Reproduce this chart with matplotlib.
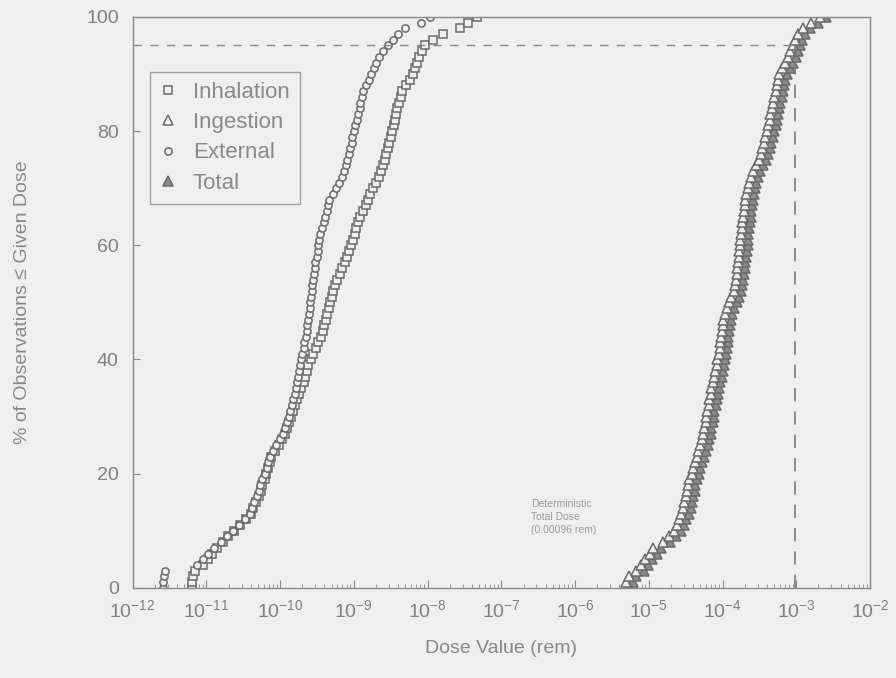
import numpy as np
import matplotlib
matplotlib.use("Agg")
import matplotlib.pyplot as plt
from matplotlib.ticker import LogLocator, NullFormatter

plt.rcParams["font.family"] = ["Liberation Sans", "DejaVu Sans"]
plt.rcParams["mathtext.fontset"] = "custom"
plt.rcParams["mathtext.rm"] = "Liberation Sans"
plt.rcParams["mathtext.it"] = "Liberation Sans"

# log10 of dose (rem), sorted, one value per observation
external_log = [
    -11.59, -11.59, -11.58, -11.56, -11.12, -11.05, -10.98, -10.90, -10.80, -10.72,
    -10.64, -10.56, -10.47, -10.41, -10.38, -10.35, -10.31, -10.29, -10.27, -10.24,
    -10.21, -10.18, -10.16, -10.14, -10.10, -10.05, -10.00, -9.96, -9.93, -9.90,
    -9.88, -9.86, -9.84, -9.82, -9.80, -9.79, -9.77, -9.76, -9.74, -9.73,
    -9.71, -9.70, -9.68, -9.67, -9.65, -9.64, -9.63, -9.62, -9.61, -9.60,
    -9.59, -9.58, -9.57, -9.57, -9.56, -9.54, -9.53, -9.52, -9.50, -9.49,
    -9.48, -9.47, -9.46, -9.43, -9.41, -9.39, -9.37, -9.35, -9.33, -9.28,
    -9.24, -9.20, -9.16, -9.14, -9.11, -9.09, -9.07, -9.05, -9.03, -9.02,
    -9.00, -8.98, -8.96, -8.94, -8.92, -8.91, -8.89, -8.87, -8.84, -8.80,
    -8.77, -8.73, -8.70, -8.66, -8.60, -8.53, -8.47, -8.40, -8.30, -8.09,
    -7.97]

inhalation_log = [
    -11.19, -11.19, -11.18, -11.16, -11.05, -10.98, -10.92, -10.85, -10.78, -10.70,
    -10.62, -10.54, -10.46, -10.40, -10.37, -10.33, -10.29, -10.26, -10.24, -10.21,
    -10.19, -10.16, -10.14, -10.12, -10.07, -10.02, -9.97, -9.93, -9.91, -9.88,
    -9.85, -9.82, -9.80, -9.77, -9.74, -9.71, -9.68, -9.66, -9.64, -9.62,
    -9.58, -9.55, -9.51, -9.48, -9.45, -9.42, -9.40, -9.38, -9.36, -9.34,
    -9.32, -9.30, -9.28, -9.25, -9.23, -9.19, -9.16, -9.12, -9.09, -9.06,
    -9.04, -9.01, -8.99, -8.97, -8.95, -8.91, -8.88, -8.84, -8.81, -8.78,
    -8.74, -8.70, -8.66, -8.63, -8.60, -8.58, -8.56, -8.54, -8.52, -8.50,
    -8.48, -8.46, -8.44, -8.43, -8.41, -8.39, -8.36, -8.34, -8.29, -8.24,
    -8.20, -8.17, -8.14, -8.11, -8.08, -8.04, -7.92, -7.79, -7.56, -7.45,
    -7.33]

ingestion_log = [
    -5.34, -5.31, -5.27, -5.17, -5.11, -5.05, -4.99, -4.94, -4.81, -4.73,
    -4.66, -4.62, -4.59, -4.56, -4.53, -4.52, -4.50, -4.48, -4.47, -4.45,
    -4.42, -4.40, -4.38, -4.35, -4.33, -4.30, -4.28, -4.26, -4.25, -4.23,
    -4.22, -4.21, -4.19, -4.18, -4.16, -4.15, -4.13, -4.11, -4.10, -4.08,
    -4.07, -4.05, -4.04, -4.03, -4.02, -4.01, -4.00, -3.99, -3.97, -3.94,
    -3.91, -3.88, -3.85, -3.83, -3.82, -3.81, -3.80, -3.79, -3.78, -3.77,
    -3.76, -3.76, -3.75, -3.74, -3.73, -3.72, -3.71, -3.70, -3.69, -3.68,
    -3.66, -3.64, -3.62, -3.59, -3.55, -3.51, -3.48, -3.46, -3.44, -3.42,
    -3.40, -3.38, -3.36, -3.35, -3.33, -3.32, -3.30, -3.28, -3.26, -3.25,
    -3.23, -3.19, -3.15, -3.11, -3.08, -3.05, -3.02, -2.98, -2.91, -2.80,
    -2.68]

total_log = [
    -5.26, -5.21, -5.17, -5.07, -5.01, -4.95, -4.89, -4.84, -4.71, -4.63,
    -4.56, -4.52, -4.49, -4.46, -4.43, -4.42, -4.40, -4.38, -4.37, -4.35,
    -4.32, -4.30, -4.28, -4.25, -4.23, -4.20, -4.18, -4.16, -4.15, -4.13,
    -4.12, -4.11, -4.09, -4.08, -4.06, -4.05, -4.03, -4.01, -4.00, -3.98,
    -3.97, -3.95, -3.94, -3.93, -3.92, -3.91, -3.90, -3.89, -3.87, -3.84,
    -3.81, -3.78, -3.75, -3.73, -3.72, -3.71, -3.70, -3.69, -3.68, -3.67,
    -3.66, -3.66, -3.65, -3.64, -3.63, -3.62, -3.61, -3.60, -3.59, -3.58,
    -3.56, -3.54, -3.52, -3.49, -3.45, -3.41, -3.38, -3.36, -3.34, -3.32,
    -3.30, -3.28, -3.26, -3.25, -3.23, -3.22, -3.20, -3.18, -3.16, -3.15,
    -3.13, -3.09, -3.05, -3.01, -2.98, -2.95, -2.92, -2.88, -2.81, -2.70,
    -2.60]

det_total_dose = 0.00096
pct_line = 95
xtick_labels = ["$10^{-%d}$" % k for k in range(12, 1, -1)]

bg = "#efefef"
ink = "#6a6a6a"

fig = plt.figure(figsize=(8.96, 6.78), dpi=100, facecolor=bg)
ax = fig.add_axes([0.148, 0.133, 0.823, 0.842], facecolor=bg)


def cdf(logs):
    x = 10.0 ** np.array(logs)
    y = np.linspace(0, 100, len(x))
    return x, y


x, y = cdf(inhalation_log)
ax.plot(x, y, ls="none", marker="s", ms=5.2, mfc=bg, mec=ink, mew=1.1, label="Inhalation")
x, y = cdf(total_log)
ax.plot(x, y, ls="none", marker="^", ms=7, mfc="#8a8a8a", mec=ink, mew=1.1, label="Total")
x, y = cdf(ingestion_log)
ax.plot(x, y, ls="none", marker="^", ms=7, mfc=bg, mec=ink, mew=1.1, label="Ingestion")
x, y = cdf(external_log)
ax.plot(x, y, ls="none", marker="o", ms=5.2, mfc=bg, mec=ink, mew=1.1, label="External")

ax.plot([1e-12, det_total_dose], [pct_line, pct_line], ls=(0, (6, 6)), color="#8a8a8a", lw=1.0)
ax.plot([det_total_dose, det_total_dose], [0, pct_line], ls=(0, (8, 6)), color="#7a7a7a", lw=1.2)

ax.text(2.5e-7, 15.5, "Deterministic\nTotal Dose\n(0.00096 rem)", fontsize=7.5,
        color="#9a9a9a", va="top", ha="left", linespacing=1.35)

ax.set_xscale("log")
ax.set_xlim(1e-12, 1e-2)
ax.set_ylim(0, 100)
ax.set_xticks([10.0 ** -k for k in range(12, 1, -1)])
ax.set_xticklabels(xtick_labels)
ax.xaxis.set_minor_locator(LogLocator(base=10, subs=np.arange(2, 10), numticks=100))
ax.xaxis.set_minor_formatter(NullFormatter())
ax.set_yticks([0, 20, 40, 60, 80, 100])
ax.tick_params(axis="both", which="both", direction="in", colors="#888888",
               labelcolor="#808080", labelsize=14)
ax.tick_params(axis="x", which="major", length=6, pad=8)
ax.tick_params(axis="x", which="minor", length=3)
ax.tick_params(axis="y", which="major", length=5, pad=10)
for s in ax.spines.values():
    s.set_color("#8a8a8a")
    s.set_linewidth(1.0)

ax.set_xlabel("Dose Value (rem)", fontsize=14, color="#888888", labelpad=14)
ax.set_ylabel("% of Observations \u2264 Given Dose", fontsize=14, color="#888888", labelpad=40)

h, l = ax.get_legend_handles_labels()
order = [l.index(n) for n in ["Inhalation", "Ingestion", "External", "Total"]]
leg = ax.legend([h[i] for i in order], [l[i] for i in order], loc="upper left",
                bbox_to_anchor=(0.023, 0.904), borderaxespad=0, fontsize=16, frameon=True,
                fancybox=False, handlelength=0.8, handletextpad=0.7, labelspacing=0.42,
                borderpad=0.45, labelcolor="#8a8a8a")
leg.get_frame().set_edgecolor("#8a8a8a")
leg.get_frame().set_facecolor(bg)
leg.get_frame().set_linewidth(1.0)

fig.savefig("out.png", dpi=100, facecolor=bg)
